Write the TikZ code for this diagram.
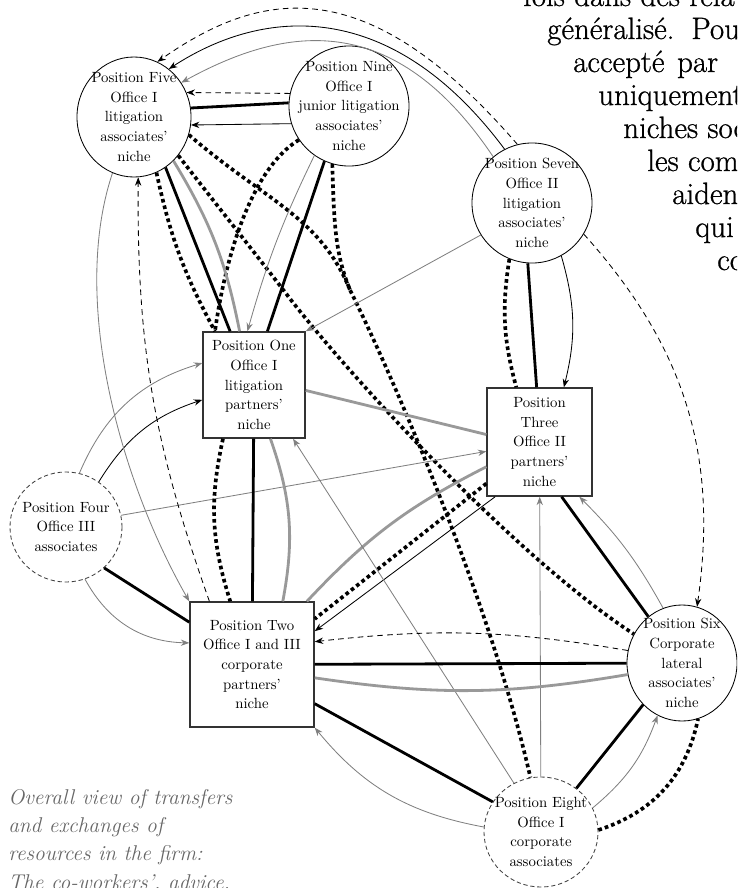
\documentclass[tikz,border=0pt]{standalone}
\usepackage{fontspec}
\newfontfamily\pagefont{lmroman17-regular}[Extension=.otf, FakeBold=0.8]
\usetikzlibrary{shapes.geometric,arrows.meta}

\tikzset{
	niche/.style={ellipse, draw, line width=0.6pt, fill=white, align=center, inner sep=-9pt, font=\fontsize{10.5}{14}\selectfont},
	looseniche/.style={niche, draw=black!75, dash pattern=on 3pt off 2pt},
	partnerbox/.style={rectangle, draw=black!80, line width=1pt, fill=white, align=center, inner sep=1pt, font=\fontsize{10.5}{14}\selectfont},
	strongtie/.style={line width=2pt},
	graytie/.style={line width=2pt, black!40},
	dottedtie/.style={line width=2.6pt, dash pattern=on 2.6pt off 2.2pt},
	advice/.style={line width=0.6pt, ->},
	grayadvice/.style={line width=0.6pt, black!50, ->},
	dashedadvice/.style={line width=0.6pt, dash pattern=on 4pt off 3pt, ->},
	pagetext/.style={anchor=base west, inner sep=0pt, font=\pagefont\fontsize{22}{26}\selectfont},
	caption/.style={anchor=base west, inner sep=0pt, black!60, font=\fontsize{15.2}{20}\selectfont\itshape}
}

\begin{document}
\begin{tikzpicture}[x=0.025cm, y=-0.025cm, >={Stealth[length=6pt,width=4.5pt]}]
		\useasboundingbox (0,0) rectangle (737,888);
		\clip (0,0) rectangle (737,888);

		\node[niche, minimum width=2.85cm, minimum height=3cm] (P5) at (134,117) {Position Five\\Office I\\litigation\\associates'\\niche};
		\node[niche, minimum width=3cm, minimum height=3cm] (P9) at (349,106) {Position Nine\\Office I\\junior litigation\\associates'\\niche};
		\node[niche, minimum width=3cm, minimum height=3cm] (P7) at (532,203) {Position Seven\\Office II\\litigation\\associates'\\niche};
		\node[partnerbox, minimum width=2.55cm, minimum height=2.65cm] (P1) at (254,385) {Position One\\Office I\\litigation\\partners'\\niche};
		\node[partnerbox, minimum width=2.62cm, minimum height=2.7cm] (P3) at (539.5,442) {Position\\Three\\Office II\\partners'\\niche};
		\node[looseniche, minimum width=2.8cm, minimum height=2.75cm] (P4) at (66,527) {Position Four\\Office III\\associates};
		\node[partnerbox, minimum width=3.1cm, minimum height=3.12cm] (P2) at (252,664.5) {Position Two\\Office I and III\\corporate\\partners'\\niche};
		\node[niche, minimum width=2.75cm, minimum height=2.9cm] (P6) at (682,663) {Position Six\\Corporate\\lateral\\associates'\\niche};
		\node[looseniche, minimum width=2.85cm, minimum height=2.75cm] (P8) at (541,832) {Position Eight\\Office I\\corporate\\associates};
		\coordinate (j58) at (350,290);

		\draw[dashedadvice] (P7.104) .. controls (371,-25) and (267,-15) .. (P5.67);
		\draw[advice] (P7.117) .. controls (391,-3) and (264,7) .. (P5.54);
		\draw[grayadvice] (P7.130) .. controls (394,9) and (286,25) .. (P5.36);

		\draw[dashedadvice] (P9.168) -- (P5.25);
		\draw[strongtie] (P9.177) -- (P5.9);
		\draw[advice] (P9.197) -- (P5.352);

		\draw[dottedtie] (P5.292) to[bend right=8] (P1.126);
		\draw[dottedtie] (P9.214) .. controls (250,170) and (225,260) .. (P1.126);
		\draw[strongtie] (P5.302) -- (P1.114);
		\draw[graytie] (P5.312) to[bend left=10] (P1.105);
		\draw[dottedtie] (P5.319) .. controls (230,222) and (262,262) .. (291,300) .. controls (360,388) and (520,560) .. (P6.149);
		\draw[dottedtie] (P5.342) .. controls (264,200) and (320,216) .. (j58);

		\draw[dottedtie] (P9.254) .. controls (334,230) and (336,255) .. (j58) .. controls (390,370) and (490,600) .. (P8.101);
		\draw[strongtie] (P9.246) -- (P1.76);
		\draw[grayadvice] (P9.235) to[bend right=5] (P1.97);

		\draw[grayadvice] (P7.212) -- (P1.north east);
		\draw[dottedtie] (P7.248) to[bend right=12] (P3.113);
		\draw[strongtie] (P7.266) -- (P3.93);
		\draw[advice] (P7.299) to[bend left=15] (P3.66);
		\draw[dashedadvice] (P7.329) to[bend left=25] (P6.75);

		\draw[graytie] (P1.354) -- (P3.172);
		\draw[grayadvice] (P4.12) -- (P3.190);
		\draw[graytie] (P2.49) to[bend left=10] (P3.205);
		\draw[dottedtie] (P3.218) -- (P2.36);
		\draw[advice] (P3.231) -- (P2.28);
		\draw[grayadvice] (P8) -- (P3);
		\draw[strongtie] (P3.292) -- (P6.126);
		\draw[grayadvice] (P6.109) to[bend right=8] (P3.306);
		\draw[grayadvice] (P8.119) -- (P1.306);

		\draw[grayadvice] (P4.76) to[bend left=25] (P1.157);
		\draw[advice] (P4.54) to[bend left=20] (P1.196);
		\draw[strongtie] (P4.313) -- (P2.146);
		\draw[grayadvice] (P4.290) to[bend right=30] (P2.161);
		\draw[grayadvice] (P5.249) .. controls (70,300) and (120,480) .. (P2.north west);
		\draw[dashedadvice] (P2.124) to[bend left=10] (P5.274);

		\draw[strongtie] (P1) -- (P2);
		\draw[dottedtie] (P1.240) to[bend right=15] (P2.109);
		\draw[graytie] (P1.287) to[bend left=15] (P2.64);

		\draw[dashedadvice] (P6.167) to[bend right=8] (P2.20);
		\draw[strongtie] (P2) -- (P6);
		\draw[graytie] (P2.348) to[bend right=9] (P6.192);
		\draw[strongtie] (P2.328) -- (P8.148);
		\draw[grayadvice] (P8.175) to[bend left=20] (P2.south east);
		\draw[strongtie] (P8.51) -- (P6.227);
		\draw[grayadvice] (P8.25) to[bend right=15] (P6.245);
		\draw[dottedtie] (P8.2) to[bend right=30] (P6.286);

		\node[pagetext] (fr0) at (523,6) {fois dans des relati};
		\node[pagetext] (fr1) at (547,39) {généralisé.\hspace{12pt}Pou};
		\node[pagetext] (fr2) at (573,72) {accepté\hspace{9pt}par};
		\node[pagetext] (fr3) at (598,105) {uniquement};
		\node[pagetext] (fr4) at (623,138) {niches soc};
		\node[pagetext] (fr5) at (647,171) {les com};
		\node[pagetext] (fr6) at (672,204) {aiden};
		\node[pagetext] (fr7) at (695,237) {qui};
		\node[pagetext] (fr8) at (717,270) {co};

		\node[caption] (cap1) at (8,804) {Overall view of transfers};
		\node[caption] (cap2) at (8,832) {and exchanges of};
		\node[caption] (cap3) at (8,860) {resources in the firm:};
		\node[caption] (cap4) at (8,889) {The co-workers', advice,};

		\end{tikzpicture}
\end{document}
